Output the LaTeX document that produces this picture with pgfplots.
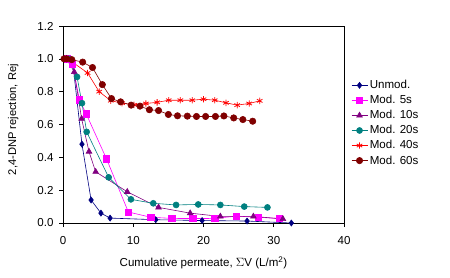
\documentclass[border=0pt]{standalone}
\usepackage{pgfplots}
\pgfplotsset{compat=1.18}
\usepackage{fontspec}
\setmainfont{Liberation Sans}
\definecolor{cnavy}{RGB}{0,0,128}
\definecolor{cmag}{RGB}{255,0,255}
\definecolor{cpur}{RGB}{128,0,128}
\definecolor{cteal}{RGB}{0,128,128}
\definecolor{cred}{RGB}{255,0,0}
\definecolor{cdred}{RGB}{128,0,0}
\begin{document}
\begin{tikzpicture}[x=1bp,y=1bp]
\path[use as bounding box] (0,0) rectangle (450,277);
\begin{axis}[
  at={(63bp,54bp)}, anchor=south west,
  scale only axis, width=281bp, height=197bp,
  xmin=0, xmax=40, ymin=0, ymax=1.2,
  xtick={0,10,20,30,40}, ytick={0,0.2,0.4,0.6,0.8,1.0,1.2},
  yticklabel style={xshift=-2bp, /pgf/number format/.cd,fixed,fixed zerofill,precision=1},
  /pgf/number format/assume math mode=true,
  tick align=outside, tick style={black, line width=0.6pt}, major tick length=4bp,
  xtick pos=bottom, ytick pos=left,
  xticklabel style={yshift=-6bp},
  axis line style={line width=0.6pt},
  every tick label/.append style={font=\fontsize{11.6}{13}\selectfont},
  label style={font=\fontsize{11.6}{13}\selectfont},
  xlabel={Cumulative permeate, $\Sigma$V (L/m\textsuperscript{2})},
  ylabel={2,4-DNP rejection, Rej},
  xlabel style={at={(axis description cs:0.5,0)}, anchor=north, yshift=-30bp},
  ylabel style={at={(axis description cs:0,0.525)}, anchor=south, yshift=41bp, font=\fontsize{11.2}{13}\selectfont},
  legend style={at={(1.025,0.735)}, anchor=north west, draw=none, fill=none,
    font=\fontsize{11.6}{13}\selectfont, row sep=1.2bp, inner sep=0pt},
  legend cell align=left,
  legend image code/.code={\draw[#1] (0bp,0bp) -- (16bp,0bp); \draw[#1, only marks] plot coordinates {(8bp,0bp)};},
  every axis plot/.append style={line width=0.6pt},
]
\addplot[cnavy, mark=diamond*, mark size=3bp, mark options={fill=cnavy}] coordinates {
(0.3,1.0)(1.4,0.97)(2.7,0.48)(4.0,0.14)(5.4,0.06)(6.7,0.03)(13.2,0.02)(19.8,0.015)(26.2,0.012)(32.5,0.0)};
\addlegendentry{Unmod.}
\addplot[cmag, mark=square*, mark size=3.2bp, mark options={fill=cmag}] coordinates {
(0.6,1.0)(1.3,0.967)(2.35,0.75)(3.3,0.665)(6.2,0.39)(9.3,0.067)(12.5,0.035)(15.5,0.028)(18.5,0.027)(21.6,0.028)(24.7,0.042)(27.8,0.035)(30.8,0.027)};
\addlegendentry{Mod. 5s}
\addplot[cpur, mark=triangle*, mark size=3.3bp, mark options={fill=cpur}] coordinates {
(0.5,1.0)(1.6,0.92)(2.65,0.635)(3.7,0.435)(4.65,0.312)(9.15,0.19)(13.6,0.095)(18.1,0.06)(22.4,0.04)(27.1,0.04)(31.3,0.025)};
\addlegendentry{Mod. 10s}
\addplot[cteal, mark=*, mark size=3bp, mark options={fill=cteal}] coordinates {
(0.8,1.0)(2.0,0.89)(2.7,0.73)(3.37,0.555)(6.5,0.278)(9.67,0.144)(12.85,0.12)(16.1,0.11)(19.25,0.113)(22.4,0.11)(25.8,0.1)(29.1,0.095)};
\addlegendentry{Mod. 20s}
\addplot[cred, mark=asterisk, mark size=3.2bp, mark options={line width=0.8pt}] coordinates {
(0.7,1.0)(3.5,0.914)(5.15,0.8)(6.8,0.745)(8.4,0.73)(10.1,0.72)(11.8,0.728)(13.4,0.735)(15.05,0.748)(16.7,0.748)(18.4,0.748)(20.0,0.754)(21.6,0.748)(23.2,0.732)(24.8,0.718)(26.5,0.728)(28.0,0.744)};
\addlegendentry{Mod. 40s}
\addplot[cdred, mark=*, mark size=3.2bp, mark options={fill=cdred}] coordinates {
(0.15,1.0)(0.5,1.0)(1.25,0.995)(2.8,0.98)(4.2,0.947)(5.6,0.843)(6.9,0.758)(8.2,0.738)(9.7,0.718)(10.95,0.712)(12.3,0.69)(13.6,0.685)(15.0,0.661)(16.3,0.653)(17.7,0.651)(19.0,0.649)(20.3,0.649)(21.7,0.649)(22.9,0.652)(24.3,0.64)(25.6,0.63)(27.0,0.62)};
\addlegendentry{Mod. 60s}
\end{axis}
\end{tikzpicture}
\end{document}
